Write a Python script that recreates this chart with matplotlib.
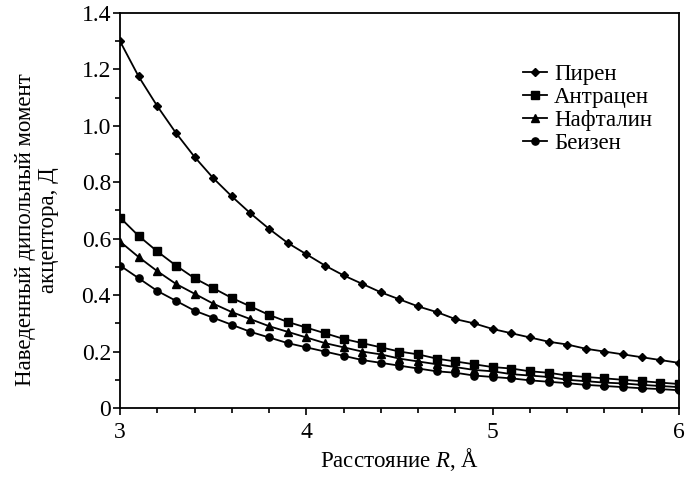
import matplotlib
matplotlib.use("Agg")
import matplotlib.pyplot as plt
from matplotlib.ticker import MultipleLocator, FuncFormatter

R = [3.0, 3.1, 3.2, 3.3, 3.4, 3.5, 3.6, 3.7, 3.8, 3.9, 4.0, 4.1, 4.2, 4.3, 4.4, 4.5,
     4.6, 4.7, 4.8, 4.9, 5.0, 5.1, 5.2, 5.3, 5.4, 5.5, 5.6, 5.7, 5.8, 5.9, 6.0]

pyrene = [1.30, 1.175, 1.07, 0.975, 0.89, 0.815, 0.75, 0.69, 0.635, 0.585, 0.545, 0.505,
          0.47, 0.44, 0.41, 0.385, 0.36, 0.34, 0.315, 0.30, 0.28, 0.265, 0.25, 0.235,
          0.225, 0.21, 0.20, 0.19, 0.18, 0.17, 0.16]
anthracene = [0.675, 0.61, 0.555, 0.505, 0.46, 0.425, 0.39, 0.36, 0.33, 0.305, 0.285,
              0.265, 0.245, 0.23, 0.215, 0.20, 0.19, 0.175, 0.165, 0.155, 0.145, 0.14,
              0.13, 0.125, 0.115, 0.11, 0.105, 0.10, 0.095, 0.09, 0.085]
naphthalene = [0.59, 0.535, 0.485, 0.44, 0.405, 0.37, 0.34, 0.315, 0.29, 0.27, 0.25,
               0.23, 0.215, 0.20, 0.19, 0.175, 0.165, 0.155, 0.145, 0.135, 0.13, 0.12,
               0.115, 0.11, 0.10, 0.095, 0.09, 0.087, 0.082, 0.078, 0.074]
benzene = [0.505, 0.46, 0.415, 0.38, 0.345, 0.32, 0.295, 0.27, 0.25, 0.23, 0.215, 0.20,
           0.185, 0.17, 0.16, 0.15, 0.14, 0.13, 0.125, 0.115, 0.11, 0.105, 0.098, 0.093,
           0.088, 0.082, 0.078, 0.074, 0.07, 0.067, 0.063]

labels = ["Пирен", "Антрацен", "Нафталин", "Беизен"]
series = [pyrene, anthracene, naphthalene, benzene]
markers = ["D", "s", "^", "o"]
msizes = [3.8, 5.2, 5.4, 5.2]

plt.rcParams['font.family'] = ['Liberation Serif', 'DejaVu Serif']
plt.rcParams['mathtext.fontset'] = 'custom'
plt.rcParams['mathtext.it'] = 'Liberation Serif:italic'
plt.rcParams['mathtext.rm'] = 'Liberation Serif'

fig = plt.figure(figsize=(6.99, 4.79), dpi=100)
ax = fig.add_axes([120/699, 1 - 408/479, 559/699, 395/479])

for lab, ys, m, ms in zip(labels, series, markers, msizes):
    ax.plot(R, ys, color='black', lw=1.3, marker=m, markersize=ms, label=lab)

ax.set_xlim(3, 6)
ax.set_ylim(0, 1.4)
ax.xaxis.set_major_locator(MultipleLocator(1))
ax.xaxis.set_minor_locator(MultipleLocator(0.2))
ax.yaxis.set_major_locator(MultipleLocator(0.2))
ax.yaxis.set_minor_locator(MultipleLocator(0.1))
ax.yaxis.set_major_formatter(FuncFormatter(lambda v, p: "0" if abs(v) < 1e-9 else f"{v:.1f}"))
ax.tick_params(which='both', direction='out', top=False, right=False, labelsize=17, width=1.2)
ax.tick_params(which='major', length=5)
ax.tick_params(which='minor', length=3.8)
ax.tick_params(axis='y', which='major', pad=1.5)
ax.tick_params(axis='x', which='major', pad=5)
for s in ax.spines.values():
    s.set_linewidth(1.3)

ax.set_xlabel("Расстояние $R$, Å", fontsize=16.5, labelpad=2)
fig.text(37/699, 1 - 230/479, "Наведенный дипольный момент\nакцептора, Д", fontsize=16.5,
         rotation=90, ha='center', va='center', multialignment='center', linespacing=1.1)

leg = ax.legend(loc='upper left', bbox_to_anchor=(0.705, 0.894), frameon=False, fontsize=16.5,
                handlelength=1.05, handletextpad=0.3, labelspacing=0.08, borderaxespad=0)

fig.savefig("out.png", dpi=100)
